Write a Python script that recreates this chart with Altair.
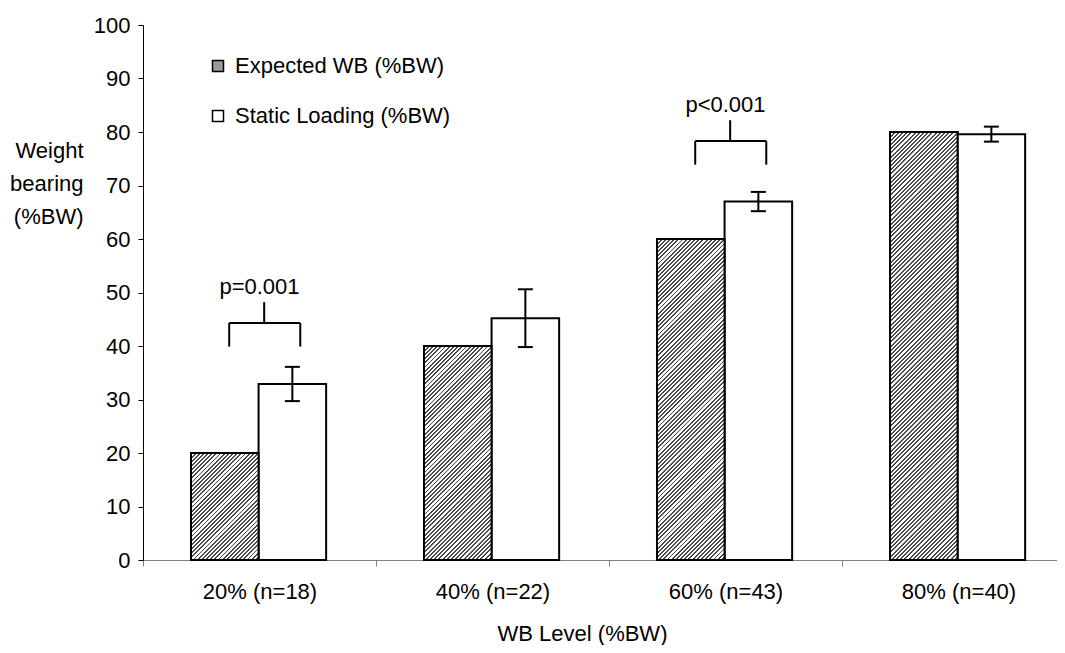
import json
import altair as alt
import pandas as pd

# ---------------- data ----------------
categories = ["20% (n=18)", "40% (n=22)", "60% (n=43)", "80% (n=40)"]
series = ["Expected WB (%BW)", "Static Loading (%BW)"]
expected = [20, 40, 60, 80]
static = [32.9, 45.2, 67.0, 79.6]
static_err = [3.2, 5.4, 1.8, 1.4]
p_labels = ["p=0.001", "p<0.001"]
p_groups = [0, 2]
p_levels = [44.3, 78.3]
y_ticks = list(range(0, 101, 10))

# ---------------- layout constants ----------------
PLOT_W, PLOT_H = 914, 535
UNIT = 233.0                      # pixels per category band
X_MAX = PLOT_W / UNIT
BAR_START = 0.206
BAR_W = 0.29
LEG_L, LEG_R, STEM, TXT = 0.37, 0.675, 0.52, 0.50
LEG_LEN, STEM_LEN, TXT_UP = 4.4, 3.9, 6.8
FONT = "Liberation Sans, Arial, sans-serif"
FS = 22
PERIOD = 4.2                      # hatch period (px, horizontal)
DARK = 0.45
DARKC = "#4a4a4a"

rows = []
for i, c in enumerate(categories):
    rows.append(dict(cat=c, idx=i, series=series[0], value=expected[i], base=0,
                     x=i + BAR_START, x2=i + BAR_START + BAR_W))
    rows.append(dict(cat=c, idx=i, series=series[1], value=static[i], base=0,
                     x=i + BAR_START + BAR_W, x2=i + BAR_START + 2 * BAR_W))
bars = pd.DataFrame(rows)

err = pd.DataFrame({
    "xc": [i + BAR_START + 1.5 * BAR_W for i in range(len(categories))],
    "lo": [m - e for m, e in zip(static, static_err)],
    "hi": [m + e for m, e in zip(static, static_err)],
})

br = pd.DataFrame({
    "label": p_labels,
    "xl": [g + LEG_L for g in p_groups],
    "xr": [g + LEG_R for g in p_groups],
    "xs": [g + STEM for g in p_groups],
    "xt": [g + TXT for g in p_groups],
    "y": p_levels,
    "yleg": [v - LEG_LEN for v in p_levels],
    "ystem": [v + STEM_LEN for v in p_levels],
    "ytext": [v + TXT_UP for v in p_levels],
})

xscale = alt.Scale(domain=[0, X_MAX], nice=False, zero=False)
yscale = alt.Scale(domain=[0, 100], nice=False)


def hatch(value):
    W = BAR_W * UNIT
    H = value * PLOT_H / 100.0
    s = (W + H) / (W * W + H * H)
    n = max(1, int(round((W + H) / PERIOD)))
    stops = []
    for k in range(n):
        a, b, c = k / n, (k + DARK) / n, (k + 1) / n
        stops += [{"offset": a, "color": DARKC}, {"offset": b, "color": DARKC},
                  {"offset": b, "color": "#ffffff"}, {"offset": c, "color": "#ffffff"}]
    return alt.LinearGradient(gradient="linear", stops=stops,
                              x1=0, y1=0, x2=W * s, y2=H * s)


label_expr = json.dumps(categories) + "[round(datum.value)]"

x_axis = alt.Axis(values=[0, 1, 2, 3], labelExpr=label_expr, labelOffset=UNIT / 2,
                  labelFlush=False, labelOverlap=False, tickSize=6, tickColor="#808080",
                  domainColor="#808080", domainWidth=1, labelPadding=15,
                  labelBaseline="top", title="WB Level (%BW)", titleX=439, titleY=73,
                  titleAlign="center", titleBaseline="middle", grid=False)
y_axis = alt.Axis(values=y_ticks, tickSize=5, tickColor="black", domainColor="black",
                  labelPadding=8, title=["Weight", "bearing", "(%BW)"], titleAngle=0,
                  titleAlign="right", titleBaseline="middle", titleX=-60, titleY=125,
                  titleLineHeight=33, grid=False)

base_bars = alt.Chart(bars).mark_bar(stroke="black", strokeWidth=2).encode(
    x=alt.X("x:Q", scale=xscale, axis=x_axis),
    x2="x2:Q",
    y=alt.Y("value:Q", scale=yscale, axis=y_axis),
    y2="base:Q",
    color=alt.Color("series:N", scale=alt.Scale(domain=series, range=["#9a9a9a", "#ffffff"]),
                    legend=alt.Legend(orient="none", legendX=64, legendY=30, title=None,
                                      symbolType="square", symbolSize=121,
                                      symbolStrokeColor="black", symbolStrokeWidth=1.5,
                                      labelFont=FONT, labelFontSize=FS, labelOffset=6,
                                      labelLimit=0, rowPadding=28, padding=0)),
)

layers = [base_bars]
for i in range(len(categories)):
    d = bars[(bars.idx == i) & (bars.series == series[0])]
    layers.append(
        alt.Chart(d).mark_bar(fill=hatch(expected[i]), stroke="black", strokeWidth=2).encode(
            x=alt.X("x:Q", scale=xscale),
            x2="x2:Q",
            y=alt.Y("value:Q", scale=yscale),
            y2="base:Q",
        )
    )

e = alt.Chart(err)
layers.append(e.mark_rule(color="black", strokeWidth=2).encode(
    x=alt.X("xc:Q", scale=xscale),
    y=alt.Y("lo:Q", scale=yscale), y2="hi:Q"))
for f in ["lo", "hi"]:
    layers.append(e.mark_tick(orient="horizontal", size=15, thickness=2, color="black",
                              opacity=1).encode(
        x=alt.X("xc:Q", scale=xscale),
        y=alt.Y(f + ":Q", scale=yscale)))

b = alt.Chart(br)
layers.append(b.mark_rule(color="black", strokeWidth=2).encode(
    x=alt.X("xl:Q", scale=xscale), x2="xr:Q",
    y=alt.Y("y:Q", scale=yscale)))
for f in ["xl", "xr"]:
    layers.append(b.mark_rule(color="black", strokeWidth=2).encode(
        x=alt.X(f + ":Q", scale=xscale),
        y=alt.Y("yleg:Q", scale=yscale), y2="y:Q"))
layers.append(b.mark_rule(color="black", strokeWidth=2).encode(
    x=alt.X("xs:Q", scale=xscale),
    y=alt.Y("y:Q", scale=yscale), y2="ystem:Q"))
layers.append(b.mark_text(font=FONT, fontSize=FS, color="black", baseline="middle",
                          align="center").encode(
    x=alt.X("xt:Q", scale=xscale),
    y=alt.Y("ytext:Q", scale=yscale),
    text="label:N"))

chart = alt.layer(*layers).properties(
    width=PLOT_W, height=PLOT_H,
    padding={"left": 135, "top": 17, "right": 0, "bottom": 85},
    autosize=alt.AutoSizeParams(type="none"),
    background="white",
).configure_view(stroke=None).configure_axis(
    labelFont=FONT, titleFont=FONT, labelFontSize=FS, titleFontSize=FS,
    labelColor="black", titleColor="black", titleFontWeight="normal", grid=False,
).configure_legend(labelFont=FONT, labelFontSize=FS, labelColor="black")

chart.save("out.html", embed_options={"renderer": "svg", "actions": False})
